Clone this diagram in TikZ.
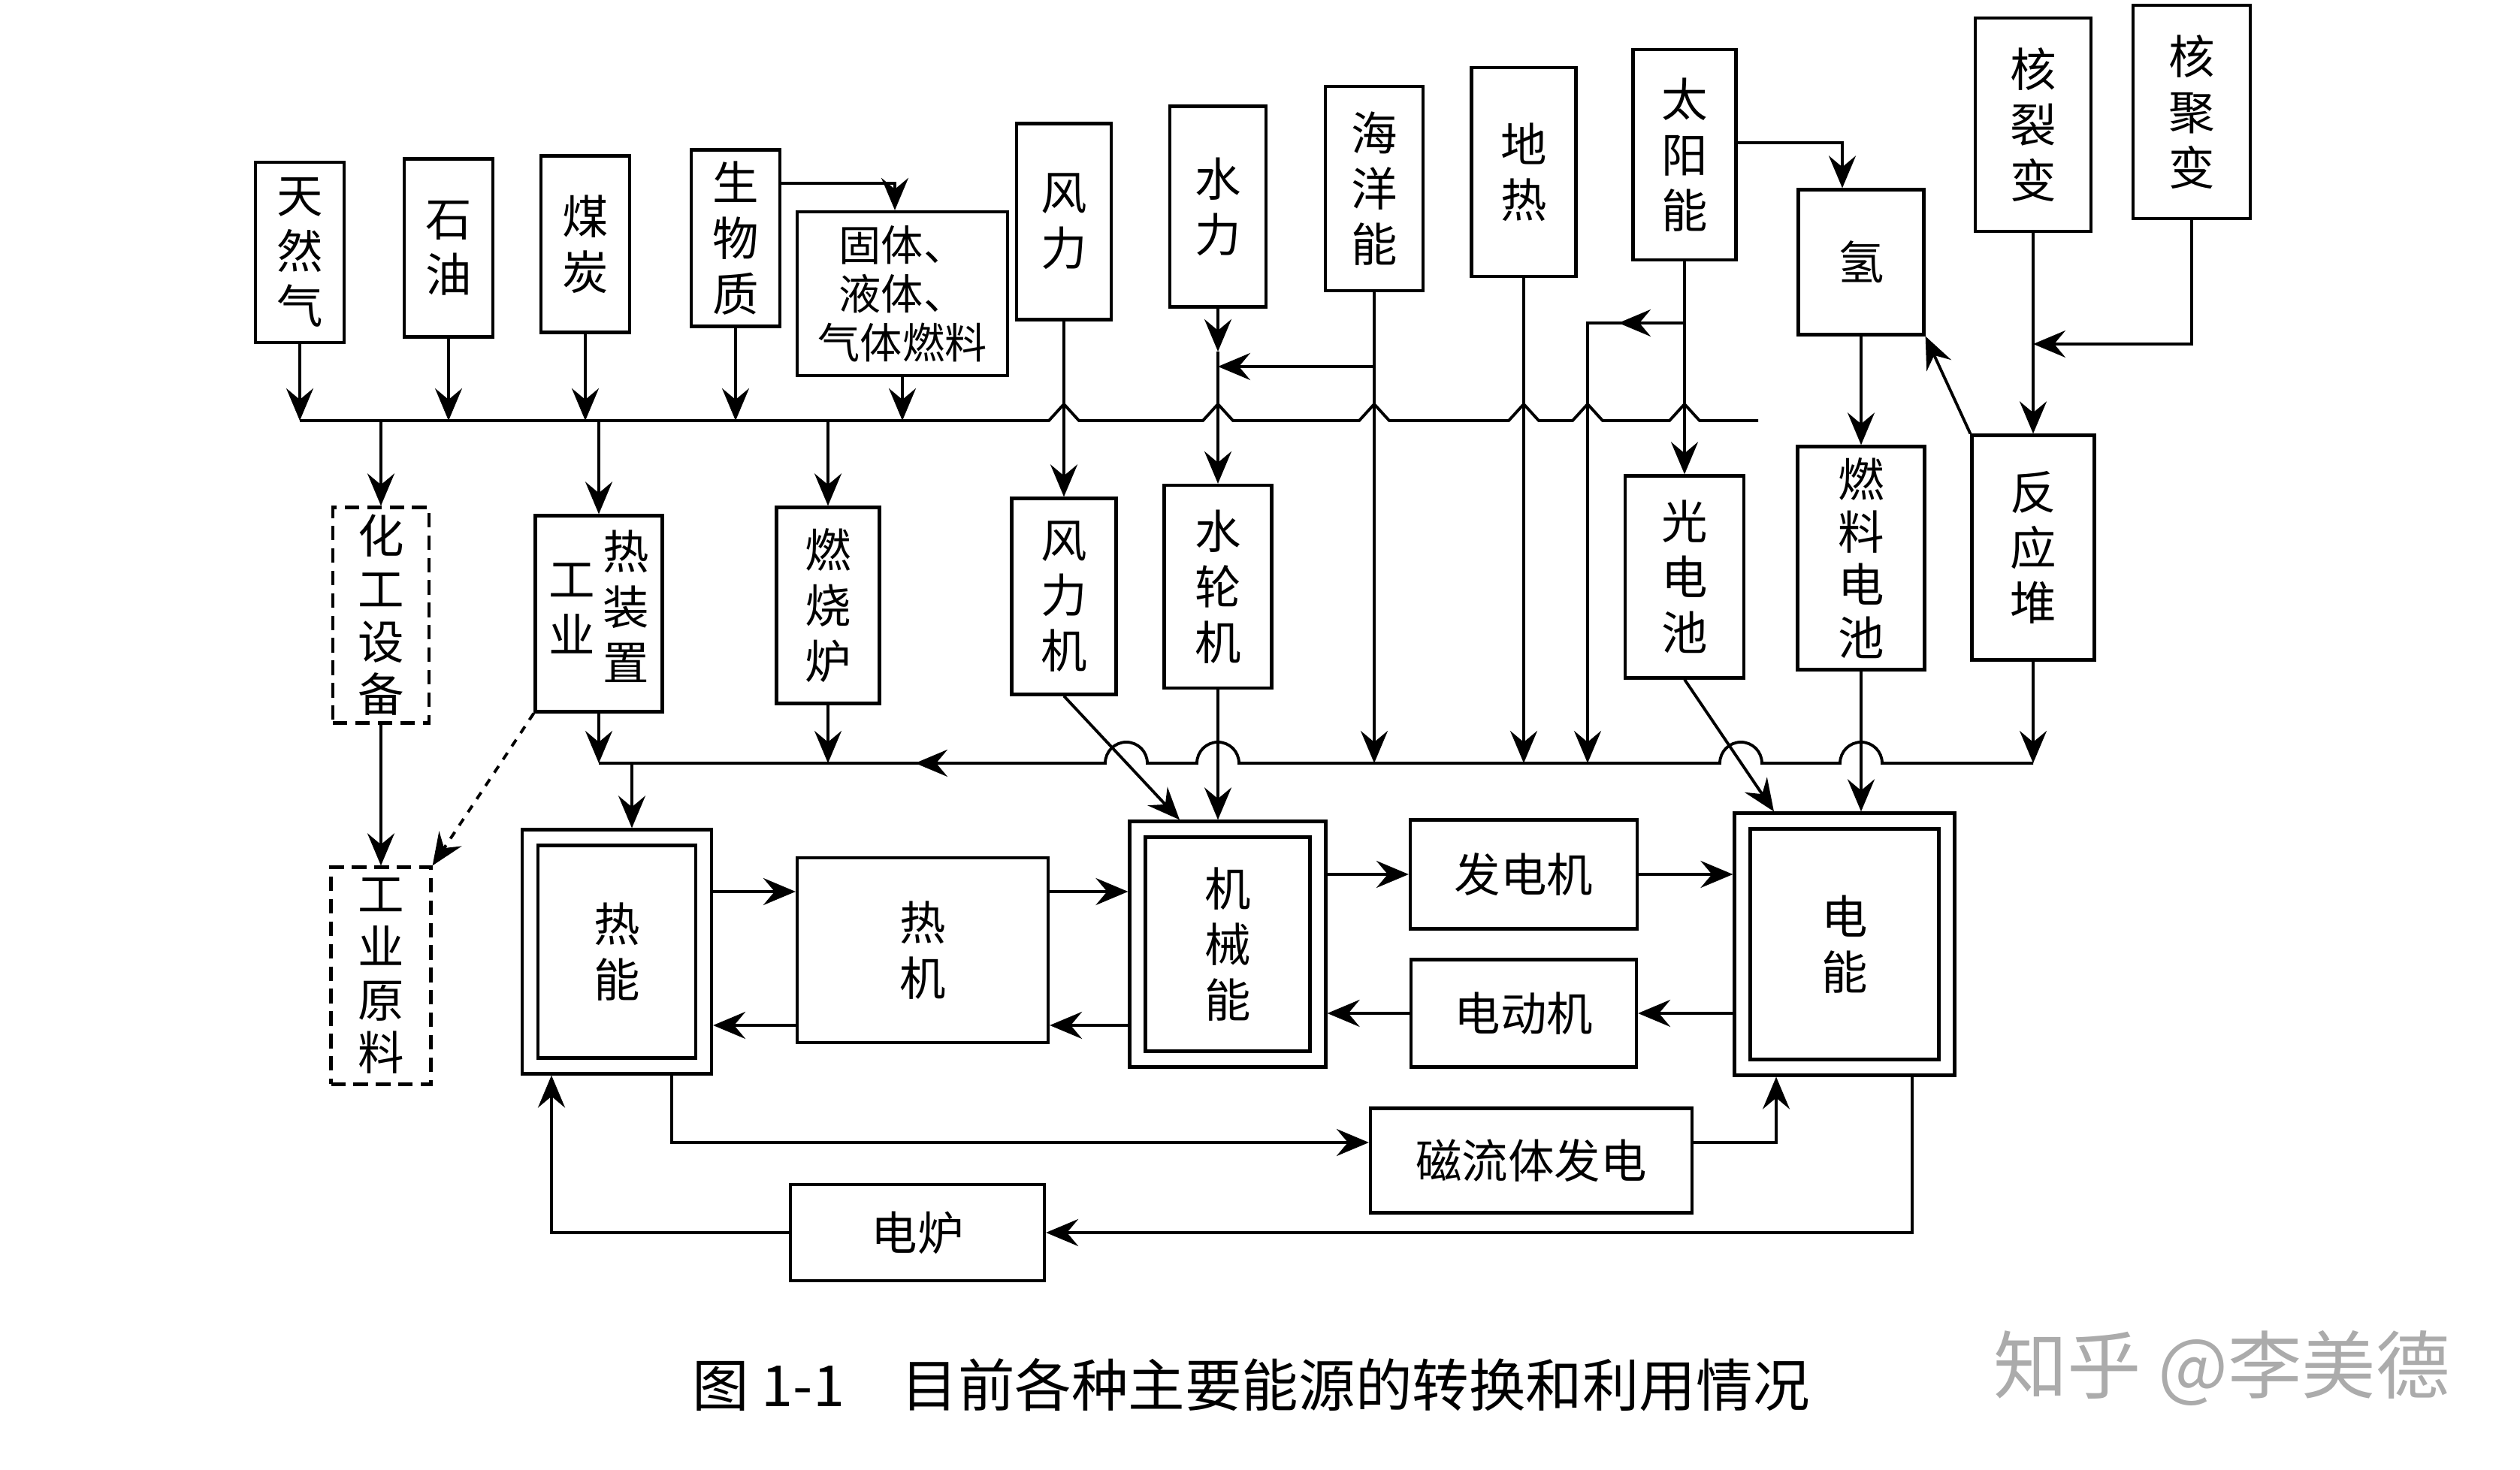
\documentclass[tikz,border=0pt]{standalone}
\usepackage{fontspec}
\setmainfont{Noto Sans CJK SC}
\usetikzlibrary{arrows.meta}

\tikzset{
  >={Stealth[length=4.3mm, width=3.6mm, inset=1.5mm]},
  box/.style={draw, line width=1.2pt, inner sep=1pt, align=center,
    font=\fontsize{17.5}{21}\selectfont},
  dbox/.style={box, dash pattern=on 5.5pt off 3pt},
  tall/.style={font=\fontsize{17.5}{20}\selectfont},
}

\begin{document}
\begin{tikzpicture}[line width=1.1pt]
\useasboundingbox (0,0) rectangle (33.54,19.57);

% energy sources
\node[box, minimum width=1.18cm, minimum height=2.40cm] (tianranqi) at (3.99,16.21) {天\\然\\气};
\node[box, minimum width=1.18cm, minimum height=2.37cm] (shiyou) at (5.97,16.27) {石\\油};
\node[box, minimum width=1.18cm, minimum height=2.35cm] (meitan) at (7.79,16.32) {煤\\炭};
\node[box, minimum width=1.18cm, minimum height=2.35cm] (shengwu) at (9.79,16.40) {生\\物\\质};
\node[box, minimum width=2.80cm, minimum height=2.18cm, font=\fontsize{16}{18.5}\selectfont] (ranliao) at (12.01,15.66) {固体、\\液体、\\气体燃料};
\node[box, minimum width=1.26cm, minimum height=2.61cm] (fengli) at (14.16,16.62) {风\\力};
\node[box, minimum width=1.28cm, minimum height=2.67cm] (shuili) at (16.21,16.82) {水\\力};
\node[box, minimum width=1.30cm, minimum height=2.72cm] (haiyang) at (18.29,17.06) {海\\洋\\能};
\node[box, minimum width=1.39cm, minimum height=2.78cm] (dire) at (20.28,17.28) {地\\热};
\node[box, minimum width=1.37cm, minimum height=2.80cm] (taiyang) at (22.42,17.51) {太\\阳\\能};
\node[box, minimum width=1.67cm, minimum height=1.93cm] (qing) at (24.77,16.08) {氢};
\node[box, minimum width=1.54cm, minimum height=2.84cm] (liebian) at (27.06,17.91) {核\\裂\\变};
\node[box, minimum width=1.56cm, minimum height=2.84cm] (jubian) at (29.17,18.08) {核\\聚\\变};

% converters
\node[dbox, tall, minimum width=1.28cm, minimum height=2.87cm] (huagong) at (5.07,11.38) {化\\工\\设\\备};
\node[box, minimum width=1.69cm, minimum height=2.61cm] (gongre) at (7.97,11.40)
  {\begin{tabular}{@{}c@{}}工\\业\end{tabular}\hspace{3pt}\begin{tabular}{@{}c@{}}热\\装\\置\end{tabular}};
\node[box, minimum width=1.37cm, minimum height=2.61cm] (ranshao) at (11.02,11.51) {燃\\烧\\炉};
\node[box, minimum width=1.39cm, minimum height=2.61cm] (fengliji) at (14.16,11.63) {风\\力\\机};
\node[box, minimum width=1.43cm, minimum height=2.70cm] (shuilunji) at (16.21,11.76) {水\\轮\\机};
\node[box, minimum width=1.58cm, minimum height=2.69cm] (guangdian) at (22.42,11.89) {光\\电\\池};
\node[box, tall, minimum width=1.69cm, minimum height=2.97cm] (randian) at (24.77,12.14) {燃\\料\\电\\池};
\node[box, minimum width=1.63cm, minimum height=2.99cm] (fanying) at (27.06,12.28) {反\\应\\堆};

% energy forms
\node[dbox, tall, minimum width=1.33cm, minimum height=2.89cm] (yuanliao) at (5.07,6.58) {工\\业\\原\\料};
\node[box, minimum width=2.52cm, minimum height=3.25cm] (reneng) at (8.21,6.90) {};
\node[box, minimum width=2.10cm, minimum height=2.83cm] (renengin) at (8.21,6.90) {热\\能};
\node[box, minimum width=3.34cm, minimum height=2.46cm] (reji) at (12.28,6.92) {热\\机};
\node[box, minimum width=2.61cm, minimum height=3.27cm] (jixie) at (16.34,7.00) {};
\node[box, minimum width=2.19cm, minimum height=2.85cm] (jixiein) at (16.34,7.00) {机\\械\\能};
\node[box, minimum width=3.02cm, minimum height=1.45cm] (fadian) at (20.28,7.93) {发电机};
\node[box, minimum width=3.00cm, minimum height=1.43cm] (diandong) at (20.28,6.08) {电动机};
\node[box, minimum width=2.93cm, minimum height=3.49cm] (dianneng) at (24.55,7.00) {};
\node[box, minimum width=2.51cm, minimum height=3.07cm] (diannengin) at (24.55,7.00) {电\\能};
\node[box, minimum width=4.28cm, minimum height=1.39cm] (cili) at (20.38,4.12) {磁流体发电};
\node[box, minimum width=3.38cm, minimum height=1.28cm] (dianlu) at (12.21,3.16) {电炉};

\node[font=\fontsize{21.5}{24}\selectfont] (caption) at (16.65,1.13) {图 1-1\quad 目前各种主要能源的转换和利用情况};
\node[font=\fontsize{28}{30}\selectfont, text=black!33] (mark) at (29.57,1.36) {知乎 @李美德};

% fuel line
\coordinate (fb-l) at (3.99,13.97);
\coordinate (fb-r) at (23.40,13.97);
\draw (fb-l) -- (13.96,13.97) -- ++(0.2,0.22) -- ++(0.2,-0.22)
  -- (16.01,13.97) -- ++(0.2,0.22) -- ++(0.2,-0.22)
  -- (18.09,13.97) -- ++(0.2,0.22) -- ++(0.2,-0.22)
  -- (20.08,13.97) -- ++(0.2,0.22) -- ++(0.2,-0.22)
  -- (20.93,13.97) -- ++(0.2,0.22) -- ++(0.2,-0.22)
  -- (22.22,13.97) -- ++(0.2,0.22) -- ++(0.2,-0.22)
  -- (fb-r);
\draw[->] (tianranqi.south) -- (fb-l);
\draw[->] (shiyou.south) -- (shiyou.south |- fb-l);
\draw[->] (meitan.south) -- (meitan.south |- fb-l);
\draw[->] (shengwu.south) -- (shengwu.south |- fb-l);
\draw[->] (ranliao.south) -- (ranliao.south |- fb-l);
\draw[->] ([yshift=7.3mm]shengwu.east) -| ([xshift=-1mm]ranliao.north);
\draw[->] (huagong.north |- fb-l) -- (huagong.north);
\draw[->] (gongre.north |- fb-l) -- (gongre.north);
\draw[->] (ranshao.north |- fb-l) -- (ranshao.north);

% upper lanes
\draw[->] ([yshift=1.6mm]taiyang.east) -| ([xshift=-2.5mm]qing.north);
\draw[->] (fengli.south) -- (fengliji.north);
\coordinate (sl) at (16.21,14.89);
\draw[->] (shuili.south) -- (sl);
\draw[->] (sl) -- (shuilunji.north);
\coordinate (ocean) at (18.29,14.69);
\draw[->] (ocean) -- (ocean -| shuili);
\draw[->] (taiyang.south) -- (guangdian.north);
\draw[->] (qing.south) -- (randian.north);
\draw[->] (liebian.south) -- (fanying.north);
\coordinate (fusion) at (27.06,14.99);
\draw[->] (jubian.south) |- (fusion);
\draw[->] (fanying.north west) -- (qing.south east);

% heat line
\coordinate (hb-l) at (7.97,9.41);
\coordinate (hb-r) at (27.06,9.41);
\coordinate (hb-heat) at (8.41,9.41);
\draw (hb-r) -- (25.05,9.41) arc[start angle=0, end angle=180, radius=0.28]
  -- (23.45,9.41) arc[start angle=0, end angle=180, radius=0.28]
  -- (16.49,9.41) arc[start angle=0, end angle=180, radius=0.28]
  -- (15.27,9.41) arc[start angle=0, end angle=180, radius=0.28]
  -- (hb-l);
\draw[->] (12.75,9.41) -- (12.18,9.41);
\draw[->] (gongre.south) -- (hb-l);
\draw[->] (ranshao.south) -- (ranshao.south |- hb-l);
\draw[->] (haiyang.south) -- (haiyang.south |- hb-l);
\draw[->] (dire.south) -- (dire.south |- hb-l);
\coordinate (sunheat) at (21.13,15.27);
\draw[->] (sunheat -| taiyang) -- (21.54,15.27);
\draw[->] (21.6,15.27) -- (sunheat) -- (sunheat |- hb-l);
\draw[->] (fanying.south) -- (hb-r);
\draw[->] (hb-heat) -- (hb-heat |- reneng.north);

% into mechanical and electric energy
\draw[->] (fengliji.south) -- ([xshift=-6.4mm]jixie.north);
\draw[->] (shuilunji.south) -- (shuilunji.south |- jixie.north);
\draw[->] (guangdian.south) -- ([xshift=-9.4mm]dianneng.north);
\draw[->] (randian.south) -- (randian.south |- dianneng.north);

% between energy forms
\draw[->] ([yshift=8mm]reneng.east) -- ([yshift=7.8mm]reji.west);
\draw[->] ([yshift=-10mm]reji.west) -- ([yshift=-9.8mm]reneng.east);
\draw[->] ([yshift=7.8mm]reji.east) -- ([yshift=7mm]jixie.west);
\draw[->] ([yshift=-10.8mm]jixie.west) -- ([yshift=-10mm]reji.east);
\draw[->] (jixie.east |- fadian) -- (fadian.west);
\draw[->] (fadian.east) -- (fadian.east -| dianneng.west);
\draw[->] (dianneng.west |- diandong) -- (diandong.east);
\draw[->] (diandong.west) -- (diandong.west -| jixie.east);

% lower loops
\coordinate (mhd) at (8.94,4.36);
\coordinate (mhd-up) at (23.64,4.36);
\draw[->] (mhd |- reneng.south) -- (mhd) -- (mhd -| cili.west);
\draw[->] (cili.east |- mhd) -- (mhd-up) -- (mhd-up |- dianneng.south);
\coordinate (ef) at (25.45,3.16);
\draw[->] (ef |- dianneng.south) -- (ef) -- (dianlu.east);
\coordinate (fh) at (7.34,3.16);
\draw[->] (dianlu.west) -- (fh) -- (fh |- reneng.south);

% chemical branch
\draw[->] (huagong.south) -- (yuanliao.north);
\draw[->, dashed] (gongre.south west) -- (yuanliao.north east);
\end{tikzpicture}
\end{document}
